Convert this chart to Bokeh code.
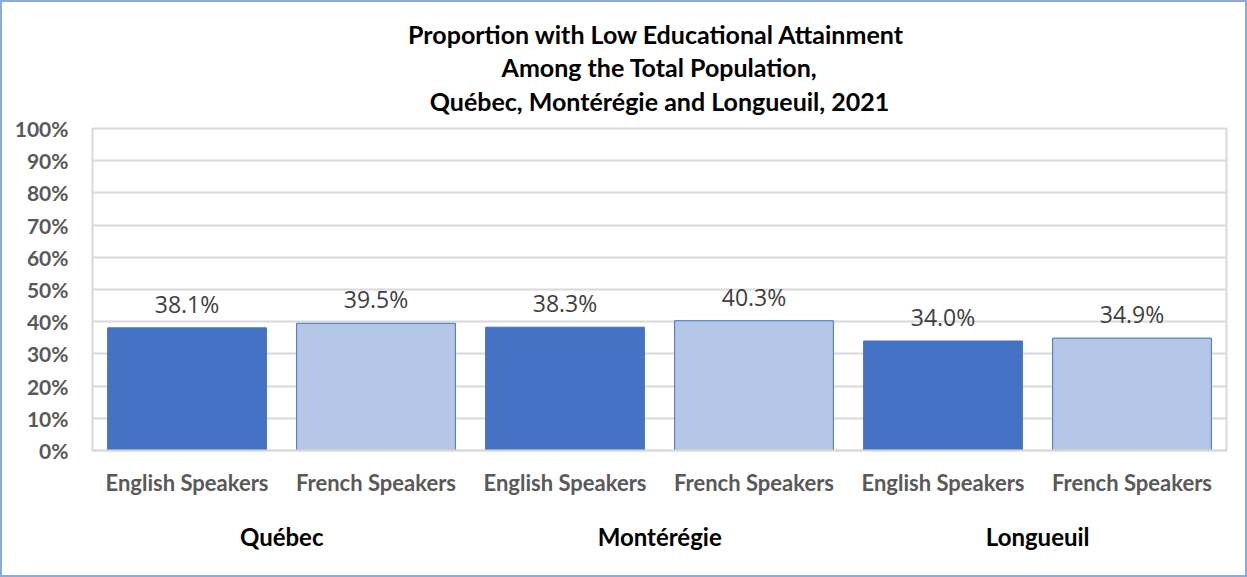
from bokeh.plotting import figure
from bokeh.models import (Title, LinearAxis, PrintfTickFormatter,
                          FixedTicker, ColumnDataSource, Range1d)
from bokeh.core.properties import value
from bokeh.embed import file_html
from bokeh.resources import INLINE

# ---- data ----
regions = ["Québec", "Montérégie", "Longueuil"]
speakers = ["English Speakers", "French Speakers"]
english_vals = [38.1, 38.3, 34.0]
french_vals = [39.5, 40.3, 34.9]
y_ticks = [0, 10, 20, 30, 40, 50, 60, 70, 80, 90, 100]
title_lines = ["Proportion with Low Educational  Attainment",
               "Among the Total Population,",
               "Québec, Montérégie and Longueuil, 2021"]

FONT = "Lato"
ENG_COLOR = "#4472C4"
FR_COLOR = "#B4C7E7"

xs, vals, fills, tick_pos, overrides = [], [], [], [], {}
group_pos, group_over = [], {}
slot = 0
for r, e, f in zip(regions, english_vals, french_vals):
    start = slot
    for s, v, c in zip(speakers, [e, f], [ENG_COLOR, FR_COLOR]):
        pos = slot + 0.5
        xs.append(pos)
        vals.append(v)
        fills.append(c)
        tick_pos.append(pos)
        overrides[pos] = s
        slot += 1
    gc = (start + slot) / 2 + 0.001
    group_pos.append(gc)
    group_over[gc] = r

src = ColumnDataSource(dict(x=xs, top=vals, fill=fills,
                            label=[f"{v:.1f}%" for v in vals]))

p = figure(width=1247, height=577, output_backend="svg", toolbar_location=None,
           x_range=Range1d(0, slot), y_range=Range1d(0, 100),
           min_border_left=90, min_border_right=23, min_border_top=126,
           min_border_bottom=129)
p.styles = {"border": "2px solid #8EA9DB"}

# titles (added innermost first)
title_standoffs = [23, -21, 25]
for line, so in reversed(list(zip(title_lines, title_standoffs))):
    p.add_layout(Title(text=line, align="center", text_font=FONT, text_font_size="25px",
                       text_font_style="bold", text_color="#000000", standoff=so), "above")

p.vbar(x="x", top="top", width=0.84, source=src, fill_color="fill",
       line_color=ENG_COLOR, line_width=1)

p.text(x="x", y="top", text="label", source=src, text_align="center",
       text_baseline="middle", y_offset=-24, text_font=value("Open Sans"),
       text_font_size="23px", text_color="#404040")

# grid / outline
p.outline_line_color = "#D9D9D9"
p.outline_line_width = 2
p.xgrid.grid_line_color = None
p.ygrid.grid_line_color = "#D9D9D9"
p.ygrid.grid_line_width = 2
p.ygrid.ticker = FixedTicker(ticks=y_ticks)

# y axis
p.yaxis.ticker = FixedTicker(ticks=y_ticks)
p.yaxis.formatter = PrintfTickFormatter(format="%d%%")
p.yaxis.axis_line_color = None
p.yaxis.major_tick_line_color = None
p.yaxis.minor_tick_line_color = None
p.yaxis.major_label_standoff = 18
p.yaxis.major_label_text_font = FONT
p.yaxis.major_label_text_font_style = "bold"
p.yaxis.major_label_text_font_size = "21px"
p.yaxis.major_label_text_color = "#595959"

# x axis (speaker labels)
xa = p.xaxis[0]
xa.ticker = FixedTicker(ticks=tick_pos)
xa.major_label_overrides = overrides
xa.axis_line_color = "#D9D9D9"
xa.axis_line_width = 2
xa.major_tick_line_color = None
xa.minor_tick_line_color = None
xa.major_label_standoff = 12
xa.major_label_text_font = FONT
xa.major_label_text_font_size = "22px"
xa.major_label_text_font_style = "bold"
xa.major_label_text_color = "#595959"

# region axis
ra = LinearAxis(ticker=FixedTicker(ticks=group_pos), major_label_overrides=group_over)
ra.axis_line_color = None
ra.major_tick_line_color = None
ra.minor_tick_line_color = None
ra.major_label_standoff = 17
ra.major_label_text_font = FONT
ra.major_label_text_font_size = "24px"
ra.major_label_text_font_style = "bold"
ra.major_label_text_color = "#000000"
p.add_layout(ra, "below")

open("out.html", "w").write(file_html(p, INLINE))
